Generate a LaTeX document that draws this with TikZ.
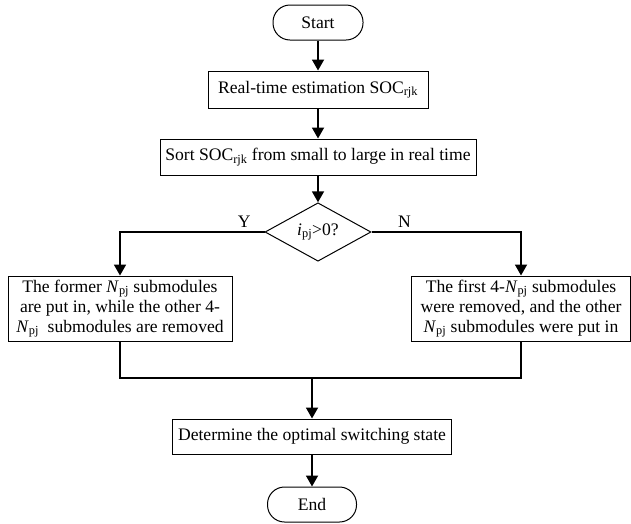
\documentclass[tikz,border=0pt]{standalone}
\usepackage{fontspec}
\setmainfont{Liberation Serif}
\usetikzlibrary{arrows.meta,shapes.geometric}
\newcommand{\sbs}[1]{\textsubscript{#1}}

\begin{document}
\begin{tikzpicture}[x=1pt, y=-1pt, line join=miter, >={Triangle[length=11pt,width=12pt]},
  font=\fontsize{17.6}{20}\selectfont,
  box/.style={draw, line width=1pt, inner sep=0pt, align=center},
  term/.style={box, rounded corners=17pt},
  flow/.style={line width=1.8pt}]
  \useasboundingbox (0,0) rectangle (631,523);

  \node[term, minimum width=90pt, minimum height=35pt] (start) at (318,22.5) {Start};
  \node[box, minimum width=220pt, minimum height=37pt] (est) at (318,89.5) {Real-time estimation SOC\sbs{rjk}};
  \node[box, minimum width=316pt, minimum height=36pt] (sort) at (318,157) {Sort SOC\sbs{rjk} from small to large in real time};
  \node[box, diamond, minimum width=106pt, minimum height=50pt] (dec) at (318,232) {\textit{i}\sbs{pj}>0?};
  \node[box, minimum width=224pt, minimum height=65pt] (former) at (120,308.5)
    {The former \textit{N}\sbs{pj} submodules\\are put in, while the other 4-\\\textit{N}\sbs{pj}\ \ submodules are removed};
  \node[box, minimum width=219pt, minimum height=65pt] (first) at (521,308.5)
    {The first 4-\textit{N}\sbs{pj} submodules\\were removed, and the other\\\textit{N}\sbs{pj} submodules were put in};
  \node[box, minimum width=279pt, minimum height=35pt] (det) at (312,436.5) {Determine the optimal switching state};
  \node[term, minimum width=89pt, minimum height=35pt] (end) at (312,504.5) {End};
  \coordinate (merge) at (312,378);

  \draw[flow,->] (start) -- (est);
  \draw[flow,->] (est) -- (sort);
  \draw[flow,->] (sort) -- (dec);
  \draw[flow,->] (dec.west) -| node (ylab) [pos=0.07, above, inner sep=4pt] {Y} (former.north);
  \draw[flow,->] (dec.east) -| node (nlab) [pos=0.11, above, inner sep=4pt] {N} (first.north);
  \draw[flow] (former.south) |- (merge) -| (first.south);
  \draw[flow,->] (merge) -- (det);
  \draw[flow,->] (det) -- (end);
\end{tikzpicture}
\end{document}
